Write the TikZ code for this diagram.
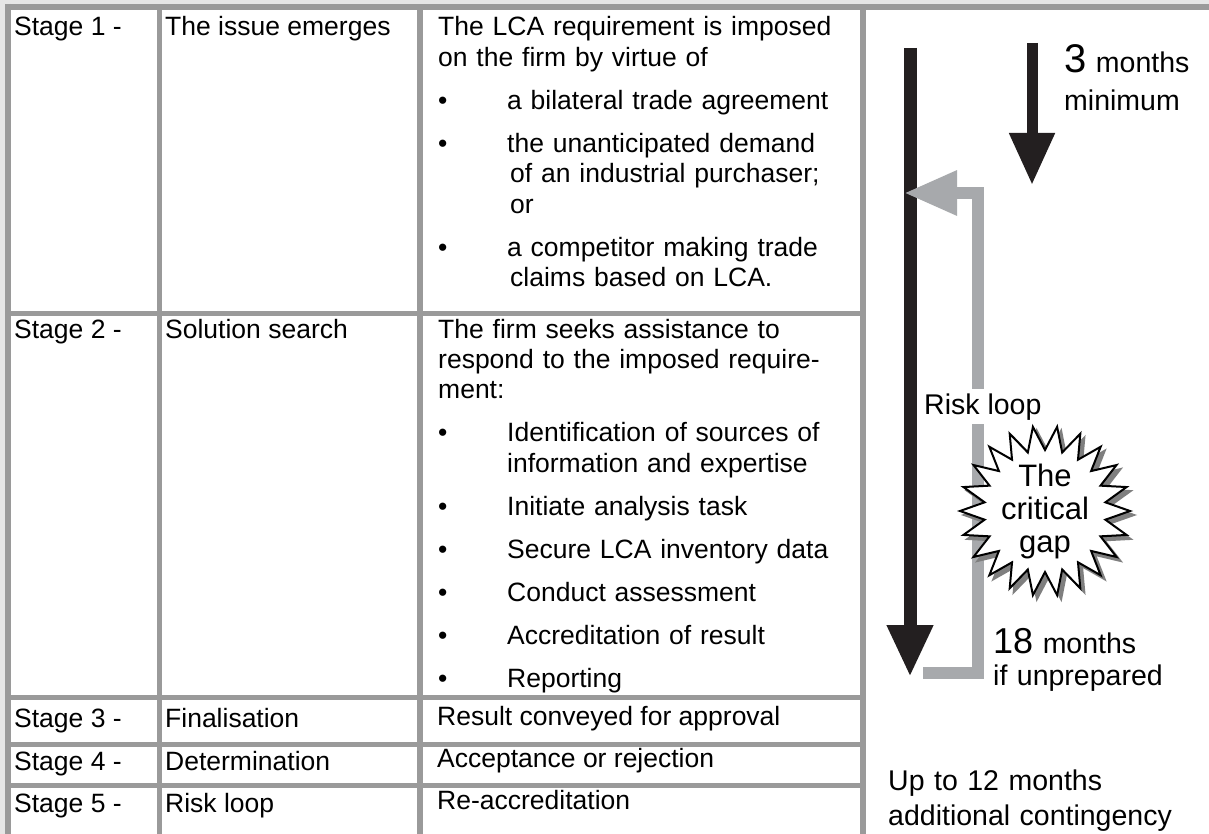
\documentclass[tikz,border=0pt]{standalone}
\usepackage{fontspec}
\setmainfont{Liberation Sans}
\usetikzlibrary{arrows.meta}
\definecolor{paper}{HTML}{E6E6E6}
\definecolor{rulegray}{HTML}{9A9A9A}
\definecolor{loopgray}{HTML}{A7A9AC}
\definecolor{arrowblack}{HTML}{231F20}
\definecolor{shadowgray}{HTML}{7F7F7F}
\newcommand\cellfont{\fontsize{26.5}{30.3}\selectfont}
\newcommand\sidefont{\fontsize{28.5}{33}\selectfont}
\newcommand\bitem[1]{\par\vskip12.8pt\hangindent=69pt\hangafter=1\noindent\makebox[69pt][l]{\textbullet}{\let\\\newline#1}\par}
\begin{document}
\begin{tikzpicture}[x=1pt,y=-1pt,
 rule/.style={rulegray,line width=5.5},
 cell/.style={anchor=base west,inner sep=0,font=\cellfont},
 desc/.style={cell,text width=420pt,align=left},
 side/.style={anchor=base west,inner sep=0,font=\sidefont,text width=#1,align=left},
 timeline/.style={arrowblack,line width=#1,-{Triangle[length=52pt,width=43pt]}},
 riskloop/.style={loopgray,line width=12,line join=miter,-{Triangle[length=53pt,width=42pt]}},
 burst/.style={fill=white,draw=black,line width=2},
 burstshadow/.style={fill=shadowgray,draw=shadowgray,line width=2}]
 \useasboundingbox (0,0) rectangle (1209,834);
 \fill[paper] (0,0) rectangle (1209,834);
 \fill[white] (8,7) rectangle (1209,834);
 \draw[rule,line width=6] (5,7) -- (1209,7);
 \draw[rule,line width=6] (8,4) -- (8,834);
 \foreach \x in {159.5,420,863} \draw[rule] (\x,7) -- (\x,834);
 \foreach \y in {313.5,697.5,744.5,785.5} \draw[rule] (8,\y) -- (863,\y);

 \node[cell] (s1) at (14,36) {Stage 1 -};
 \node[cell] (s2) at (14,338) {Stage 2 -};
 \node[cell] (s3) at (14,727) {Stage 3 -};
 \node[cell] (s4) at (14,770) {Stage 4 -};
 \node[cell] (s5) at (14,812) {Stage 5 -};
 \node[cell] (n1) at (165,36) {The issue emerges};
 \node[cell] (n2) at (165,338) {Solution search};
 \node[cell] (n3) at (165,727) {Finalisation};
 \node[cell] (n4) at (165,770) {Determination};
 \node[cell] (n5) at (165,812) {Risk loop};
 \node[desc] (d1) at (438,36) {The LCA requirement is imposed\\on the firm by virtue of
  \bitem{a bilateral trade agreement}
  \bitem{the unanticipated demand\\\hspace*{3pt}of an industrial purchaser;\\\hspace*{3pt}or}
  \bitem{a competitor making trade\\\hspace*{3pt}claims based on LCA.}};
 \node[desc] (d2) at (438,338) {The firm seeks assistance to\\respond to the imposed require-\\ment:
  \bitem{Identification of sources of\\information and expertise}
  \bitem{Initiate analysis task}
  \bitem{Secure LCA inventory data}
  \bitem{Conduct assessment}
  \bitem{Accreditation of result}
  \bitem{Reporting}};
 \node[cell] (d3) at (437,725) {Result conveyed for approval};
 \node[cell] (d4) at (437,767) {Acceptance or rejection};
 \node[cell] (d5) at (437,809) {Re-accreditation};

 \coordinate (bigtop) at (910,48);
 \coordinate (bigtip) at (910,677);
 \coordinate (smalltop) at (1032,43);
 \coordinate (smalltip) at (1032,185);
 \coordinate (loopend) at (923,673);
 \coordinate (looptip) at (904,193);
 \draw[timeline=13] (bigtop) -- (bigtip);
 \draw[timeline=11] (smalltop) -- (smalltip);
 \draw[riskloop] (loopend) -- ++(55,0) |- (looptip);
 \node[fill=white,inner sep=4pt,anchor=base west,font=\sidefont] (risk) at (920,414) {Risk loop};
 \foreach \d/\sty in {4/burstshadow,0/burst}
  \draw[\sty,shift={(1045+\d,511+\d)}] (0:85)
   \foreach \k in {1,...,22} {-- (\k*360/22-180/22:61) -- (\k*360/22:85)} -- cycle;
 \node[font=\fontsize{31}{33}\selectfont,align=center,inner sep=0] (gap) at (1045,511) {The\\critical\\gap};

 \node[side=150pt,font=\fontsize{28.5}{38}\selectfont] (min) at (1064,73) {{\fontsize{40}{40}\selectfont 3} months\\minimum};
 \node[side=200pt,font=\fontsize{28.5}{32}\selectfont] (max) at (993,653) {{\fontsize{36}{36}\selectfont 18} months\\if unprepared};
 \node[side=300pt,font=\fontsize{28.5}{35}\selectfont] (extra) at (888,790) {Up to 12 months\\additional contingency};
\end{tikzpicture}
\end{document}
